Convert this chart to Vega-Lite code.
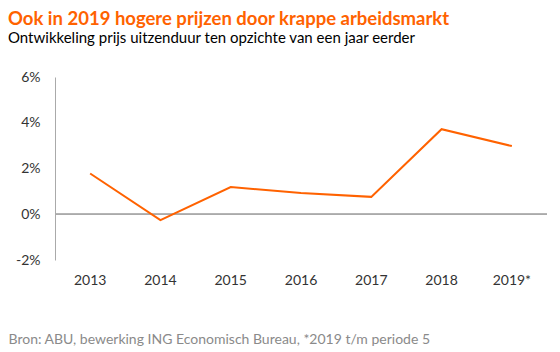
{
  "$schema": "https://vega.github.io/schema/vega-lite/v6.json",
  "width": 492,
  "height": 183,
  "autosize": "none",
  "padding": {"left": 55, "top": 77, "right": 13, "bottom": 92},
  "background": "white",
  "config": {"view": {"stroke": null}, "font": "Lato"},
  "title": {
    "text": "Ook in 2019 hogere prijzen door krappe arbeidsmarkt",
    "subtitle": "Ontwikkeling prijs uitzenduur ten opzichte van een jaar eerder",
    "anchor": "start",
    "frame": "group",
    "dx": -47,
    "offset": 24,
    "font": "Lato",
    "fontSize": 18.5,
    "fontWeight": "bold",
    "color": "#FF6200",
    "subtitleFont": "Lato",
    "subtitleFontSize": 15,
    "subtitleColor": "#000000",
    "subtitlePadding": 3
  },
  "data": {
    "values": [
      {"jaar": "2013", "waarde": 1.78},
      {"jaar": "2014", "waarde": -0.26},
      {"jaar": "2015", "waarde": 1.19},
      {"jaar": "2016", "waarde": 0.93},
      {"jaar": "2017", "waarde": 0.76},
      {"jaar": "2018", "waarde": 3.72},
      {"jaar": "2019*", "waarde": 2.98}
    ]
  },
  "encoding": {
    "x": {
      "field": "jaar",
      "type": "ordinal",
      "scale": {"type": "band", "paddingInner": 0, "paddingOuter": 0},
      "axis": {
        "title": "Bron: ABU, bewerking ING Economisch Bureau, *2019 t/m periode 5",
        "titleFont": "Lato",
        "titleFontSize": 14,
        "titleFontWeight": "normal",
        "titleColor": "#8a8a8a",
        "titleAnchor": "start",
        "titleAlign": "left",
        "titleBaseline": "alphabetic",
        "titleX": -47,
        "titleY": 83,
        "labelAngle": 0,
        "labelFont": "Lato",
        "labelFontSize": 14,
        "labelColor": "#333333",
        "labelPadding": 13,
        "domain": false,
        "ticks": false,
        "grid": false
      }
    }
  },
  "layer": [
    {
      "mark": {"type": "rule", "color": "#aaaaaa", "strokeWidth": 1},
      "encoding": {"y": {"datum": 0, "type": "quantitative"}, "x": null}
    },
    {
      "mark": {"type": "line", "color": "#FF6200", "strokeWidth": 2},
      "encoding": {
        "y": {
          "field": "waarde",
          "type": "quantitative",
          "scale": {"domain": [-2, 6], "nice": false},
          "axis": {
            "title": null,
            "values": [-2, 0, 2, 4, 6],
            "labelExpr": "datum.value + '%'",
            "labelFont": "Lato",
            "labelFontSize": 14,
            "labelColor": "#333333",
            "labelPadding": 15,
            "domain": true,
            "domainColor": "#aaaaaa",
            "ticks": false,
            "grid": false
          }
        }
      }
    }
  ]
}
